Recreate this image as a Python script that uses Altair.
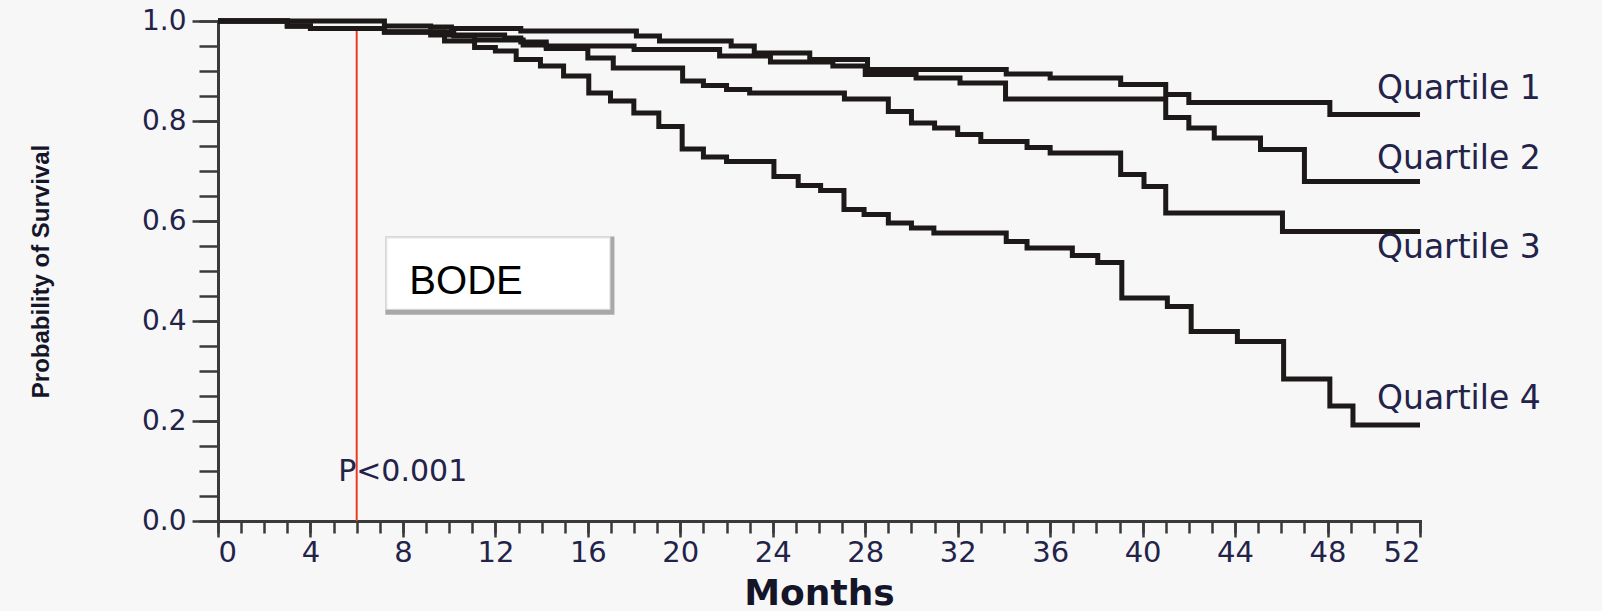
import altair as alt
import pandas as pd

# Kaplan-Meier step curves: month at which each step starts and survival after it
q1_months = [0, 7.2, 9.2, 10.1, 13.1, 18.1, 19.1, 22.2, 23.2, 25.6, 28.1, 34.1, 36.0, 39.05, 41.0, 42.0, 48.1]
q1_surv = [1.0, 0.99, 0.988, 0.985, 0.98, 0.97, 0.96, 0.95, 0.936, 0.923, 0.903, 0.894, 0.886, 0.873, 0.853, 0.837, 0.813]

q2_months = [0, 3.0, 4.0, 7.2, 9.2, 12.4, 13.1, 14.2, 18.0, 21.7, 23.9, 26.6, 28.0, 30.2, 32.1, 34.07, 41.0, 42.0, 43.1, 45.1, 47.0]
q2_surv = [1.0, 0.99, 0.985, 0.978, 0.972, 0.966, 0.958, 0.95, 0.943, 0.93, 0.918, 0.91, 0.893, 0.886, 0.876, 0.844, 0.807, 0.786, 0.766, 0.743, 0.679]

q3_months = [0, 3.0, 4.0, 7.2, 10.2, 11.1, 13.2, 14.2, 16.0, 17.1, 20.1, 21.0, 22.0, 23.0, 27.1, 29.0, 30.0, 31.0, 32.0, 33.0, 35.0, 36.0, 39.05, 40.06, 41.0, 46.05]
q3_surv = [1.0, 0.99, 0.985, 0.978, 0.97, 0.962, 0.952, 0.945, 0.926, 0.906, 0.880, 0.871, 0.863, 0.856, 0.844, 0.819, 0.796, 0.786, 0.773, 0.759, 0.747, 0.736, 0.693, 0.669, 0.616, 0.579]

q4_months = [0, 3.0, 4.0, 7.2, 9.8, 11.1, 12.0, 12.9, 13.95, 14.95, 16.04, 16.98, 17.99, 19.07, 20.08, 21.0, 22.0, 24.05, 25.1, 26.07, 27.08, 27.95, 29.0, 30.0, 30.97, 34.1, 35.0, 36.96, 38.06, 39.1, 41.07, 42.1, 44.1, 46.1, 48.1, 49.1]
q4_surv = [1.0, 0.99, 0.985, 0.978, 0.96, 0.947, 0.94, 0.923, 0.910, 0.89, 0.856, 0.840, 0.816, 0.789, 0.744, 0.728, 0.719, 0.689, 0.671, 0.661, 0.623, 0.613, 0.596, 0.586, 0.576, 0.559, 0.546, 0.531, 0.517, 0.446, 0.429, 0.379, 0.359, 0.284, 0.230, 0.192]

series_names = ["Quartile 1", "Quartile 2", "Quartile 3", "Quartile 4"]
label_surv = [0.864, 0.724, 0.546, 0.245]
end_month = 52

# annotation: landmark line, p-value, index name box
landmark_month = 6
landmark_top = 0.985
p_text = "P<0.001"
box_name = "BODE"
box_x = [7.24, 17.15]
box_y = [0.4125, 0.569]

rows = []
for name, ms, ss in zip(series_names, [q1_months, q2_months, q3_months, q4_months],
                        [q1_surv, q2_surv, q3_surv, q4_surv]):
    for m, s in zip(ms, ss):
        rows.append({"series": name, "month": m, "surv": s})
    rows.append({"series": name, "month": end_month, "surv": ss[-1]})
curves = pd.DataFrame(rows)

labels = pd.DataFrame({"series": series_names, "month": [end_month] * 4, "surv": label_surv})
landmark = pd.DataFrame({"month": [landmark_month], "surv": [0.0], "top": [landmark_top], "p": [p_text]})
box = pd.DataFrame({"x0": [box_x[0]], "x1": [box_x[1]], "y0": [box_y[0]], "y1": [box_y[1]], "name": [box_name]})

AXIS_COLOR = "#3a3a3a"
LABEL_COLOR = "#23234a"
xscale = alt.Scale(domain=[0, end_month], nice=False, zero=False)
yscale = alt.Scale(domain=[0, 1], nice=False)

major_x = alt.Axis(
    orient="bottom", values=list(range(0, 53, 4)), tickSize=16, tickWidth=2.5, tickColor=AXIS_COLOR,
    domainColor=AXIS_COLOR, domainWidth=3, domainCap="square", grid=False,
    labelFont="DejaVu Sans", labelFontSize=29, labelColor=LABEL_COLOR, labelPadding=1,
    title="Months", titleFont="DejaVu Sans", titleFontSize=36, titleFontWeight="bold",
    titleColor="#15152a", titleX=601, titleY=72, titleAlign="center", titleBaseline="middle",
)
major_y = alt.Axis(
    orient="left", values=[0, 0.2, 0.4, 0.6, 0.8, 1.0], format=".1f", tickSize=26, tickWidth=2.5,
    tickColor=AXIS_COLOR, domainColor=AXIS_COLOR, domainWidth=3, domainCap="square", grid=False,
    labelFont="DejaVu Sans", labelFontSize=28, labelColor=LABEL_COLOR, labelPadding=6,
    title="Probability of Survival", titleFont="Liberation Sans",
    titleFontSize=24, titleFontWeight="bold", titleColor="#15152a",
    titleX=-177, titleY=250, titleAngle=270, titleAlign="center", titleBaseline="middle",
)
minor_x = alt.Axis(orient="bottom", values=list(range(0, 53)), tickSize=12, tickWidth=2.5,
                   tickColor=AXIS_COLOR, labels=False, domain=False, grid=False, title="")
minor_y = alt.Axis(orient="left", values=[round(0.05 * i, 2) for i in range(21)], tickSize=19,
                   tickWidth=2.5, tickColor=AXIS_COLOR, labels=False, domain=False, grid=False, title="")

lines = alt.Chart(curves).mark_line(
    interpolate="step-after", strokeWidth=5, color="#1d1919", strokeJoin="miter"
).encode(
    x=alt.X("month:Q", scale=xscale, axis=major_x),
    y=alt.Y("surv:Q", scale=yscale, axis=major_y),
    detail="series:N",
)

rule = alt.Chart(landmark).mark_rule(color="#ee3a1c", strokeWidth=2).encode(
    x=alt.X("month:Q", scale=xscale, axis=minor_x),
    y=alt.Y("surv:Q", scale=yscale, axis=minor_y),
    y2="top:Q",
)

ptext = alt.Chart(landmark).mark_text(
    font="DejaVu Sans", fontSize=30, color=LABEL_COLOR, align="center", baseline="middle", dx=46, dy=-49
).encode(
    x=alt.X("month:Q", scale=xscale, axis=None),
    y=alt.Y("surv:Q", scale=yscale, axis=None),
    text="p:N",
)

qlabels = alt.Chart(labels).mark_text(
    font="DejaVu Sans", fontSize=33, color=LABEL_COLOR, align="left", baseline="middle", dx=-43
).encode(
    x=alt.X("month:Q", scale=xscale, axis=None),
    y=alt.Y("surv:Q", scale=yscale, axis=None),
    text="series:N",
)

box_enc = dict(
    x=alt.X("x0:Q", scale=xscale, axis=None), x2="x1:Q",
    y=alt.Y("y1:Q", scale=yscale, axis=None), y2="y0:Q",
)
box_shadow = alt.Chart(box).mark_rect(fill="#a8a8a8").encode(**box_enc)
box_light = alt.Chart(box).mark_rect(fill="#e2e2e2", x2Offset=-4, y2Offset=-5).encode(**box_enc)
box_face = alt.Chart(box).mark_rect(
    fill="#ffffff", xOffset=2, yOffset=2, x2Offset=-5, y2Offset=-6
).encode(**box_enc)
box_text = alt.Chart(box).mark_text(
    font="Liberation Sans", fontSize=40, color="#000000", align="left", baseline="alphabetic", dx=24, dy=-21
).encode(
    x=alt.X("x0:Q", scale=xscale, axis=None),
    y=alt.Y("y0:Q", scale=yscale, axis=None),
    text="name:N",
)

chart = alt.layer(
    rule, box_shadow, box_light, box_face, box_text, ptext, lines, qlabels
).resolve_axis(
    x="independent", y="independent"
).properties(
    width=1202, height=500,
    padding={"left": 218, "top": 21, "right": 182, "bottom": 90},
    autosize=alt.AutoSizeParams(type="none"),
    background="#f7f7f7",
).configure_view(strokeWidth=0)

chart.save("out.html", embed_options={"renderer": "svg", "actions": False})
